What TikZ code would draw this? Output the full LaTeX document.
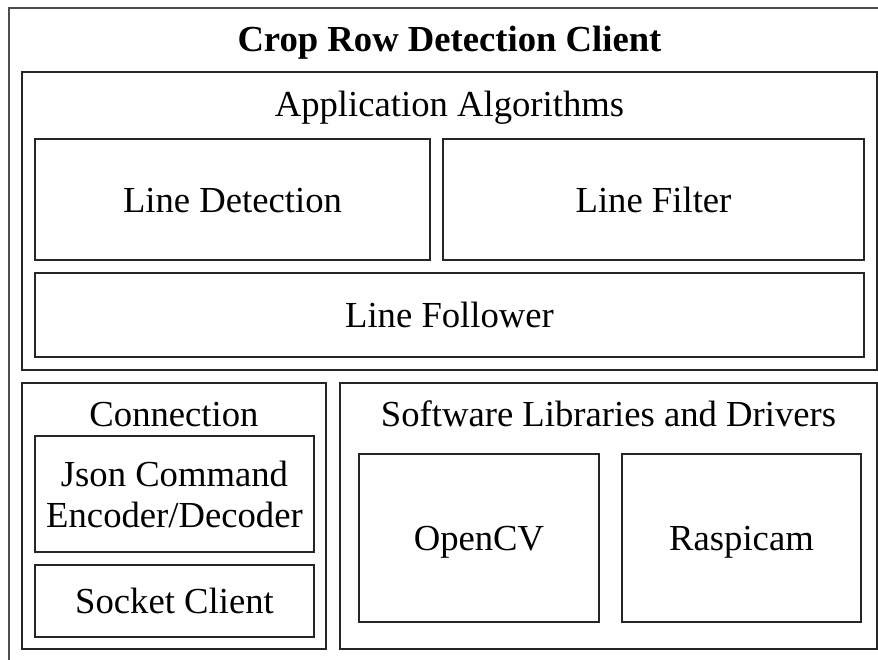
\documentclass[tikz,border=0pt]{standalone}
\usepackage{fontspec}
\setmainfont{Liberation Serif}
\usetikzlibrary{fit}
\tikzset{
  box/.style={draw=black!85, line width=0.9pt, inner sep=0pt, fit={#1}},
  lbl/.style={anchor=base, inner sep=0pt, font=\fontsize{27.5}{32}\selectfont},
  ttl/.style={lbl, font=\fontsize{27.5}{32}\selectfont\bfseries},
}
\begin{document}
\begin{tikzpicture}[x=0.75pt, y=-0.75pt]
  \clip (0,0) rectangle (878,660);
  \useasboundingbox (0,0) rectangle (878,660);
  \fill[white] (0,0) rectangle (878,660);

  % outer frame, running past the right and bottom edges
  \node[box={(9,8) (900,690)}, draw=black!70] (client) {};
  \node[ttl] (clientT) at (449.5,52) {Crop Row Detection Client};

  % application algorithms
  \node[box={(22,72) (877,370)}] (app) {};
  \node[lbl] (appT) at (449.5,116) {Application Algorithms};
  \node[box={(35,139) (430,260)}] (detect) {};
  \node[lbl] (detectT) at (232.5,212) {Line Detection};
  \node[box={(443,139) (864,260)}] (filter) {};
  \node[lbl] (filterT) at (653.5,212) {Line Filter};
  \node[box={(35,273) (864,357)}] (follow) {};
  \node[lbl] (followT) at (449.5,327) {Line Follower};

  % connection
  \node[box={(22,383) (326,649)}] (conn) {};
  \node[lbl] (connT) at (174,426) {Connection};
  \node[box={(35,436) (314,552)}] (json) {};
  \node[lbl] (jsonA) at (174.5,486) {Json Command};
  \node[lbl] (jsonB) at (174.5,527) {Encoder/Decoder};
  \node[box={(35,565) (314,637)}] (sock) {};
  \node[lbl] (sockT) at (174.5,613) {Socket Client};

  % software libraries and drivers
  \node[box={(340,383) (877,649)}] (libs) {};
  \node[lbl] (libsT) at (608.5,426) {Software Libraries and Drivers};
  \node[box={(359,454) (599,622)}] (cv) {};
  \node[lbl] (cvT) at (479,550) {OpenCV};
  \node[box={(622,454) (861,622)}] (cam) {};
  \node[lbl] (camT) at (741.5,550) {Raspicam};
\end{tikzpicture}
\end{document}
